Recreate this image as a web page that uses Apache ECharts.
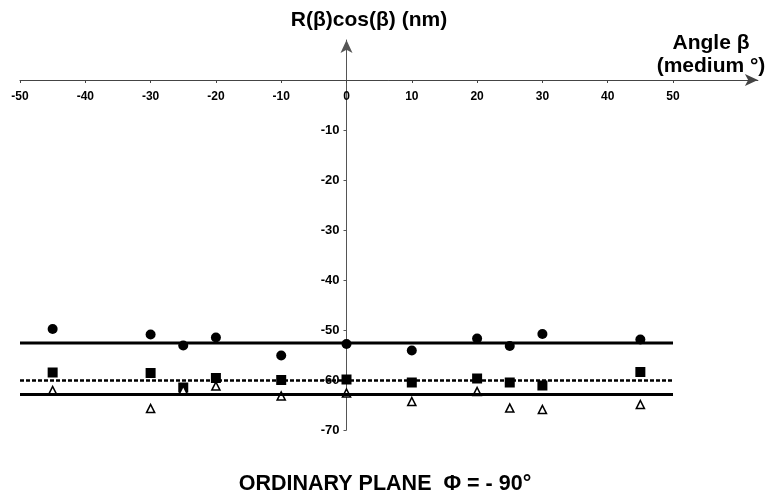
<!DOCTYPE html>
<html>
<head>
<meta charset="utf-8">
<script src="https://cdn.jsdelivr.net/npm/echarts@6/dist/echarts.min.js"></script>
<style>
  html, body { margin: 0; padding: 0; background: #fff; }
  #chart { width: 770px; height: 498px; }
</style>
</head>
<body>
<div id="chart"></div>
<script>
// angles (medium, degrees)
const angles = [-45, -30, -25, -20, -10, 0, 10, 20, 25, 30, 45];
// R(beta)cos(beta) values, nm
const circleVals = [-49.8, -50.9, -53.1, -51.5, -55.1, -52.8, -54.1, -51.7, -53.2, -50.8, -51.9];
const squareVals = [-58.5, -58.6, -61.5, -59.6, -60.0, -59.9, -60.5, -59.7, -60.5, -61.1, -58.4];
const triangleVals = [-62.1, -65.7, -62.0, -61.2, -63.2, -62.6, -64.3, -62.3, -65.6, -65.9, -64.9];
// horizontal mean lines
const lineSpan = [-50, 50];
const circleMean = -52.6;
const squareMean = -60.1;
const triangleMean = -62.9;
// tick labels
const xTicks = [-50, -40, -30, -20, -10, 0, 10, 20, 30, 40, 50];
const yTicks = [-10, -20, -30, -40, -50, -60, -70];

const chart = echarts.init(document.getElementById('chart'));

const pairs = vals => angles.map((a, i) => [a, vals[i]]);
const flat = v => lineSpan.map(x => [x, v]);
const boldFont = '"Liberation Sans", Arial, sans-serif';

// grid: -50 at x=20, 63 at x~758 ; 8 at y=40, -70 at y=430
const xMin = -50, xMax = 63, yMin = -70, yMax = 8;
const gLeft = 20, gRight = 12.1, gTop = 40, gBottom = 68;
const plotW = 770 - gLeft - gRight, plotH = 498 - gTop - gBottom;
const zeroX = plotW * (0 - xMin) / (xMax - xMin);   // from grid left
const zeroY = plotH * (0 - yMin) / (yMax - yMin);   // from grid bottom

const option = {
  animation: false,
  title: [
    {
      text: 'ORDINARY PLANE  \u03A6 = - 90\u00B0',
      left: 380, top: 468, textAlign: 'center',
      textStyle: { fontFamily: boldFont, fontWeight: 'bold', fontSize: 21.5, color: '#000' }
    },
    {
      text: 'R(\u03B2)cos(\u03B2) (nm)',
      left: 364, top: 5, textAlign: 'center',
      textStyle: { fontFamily: boldFont, fontWeight: 'bold', fontSize: 21, color: '#000' }
    },
    {
      text: 'Angle \u03B2\n(medium \u00B0)',
      left: 706, top: 27, textAlign: 'center',
      textStyle: { fontFamily: boldFont, fontWeight: 'bold', fontSize: 21, color: '#000',
        lineHeight: 23, align: 'center' }
    }
  ],
  grid: { left: gLeft, right: gRight, top: gTop, bottom: gBottom,
    containLabel: false, outerBoundsMode: 'none' },
  xAxis: {
    type: 'value', min: xMin, max: xMax, position: 'bottom', offset: -zeroY,
    splitLine: { show: false },
    axisLine: { onZero: false, symbol: ['none', 'arrow'], symbolSize: [9, 13],
      lineStyle: { color: '#444', width: 1 } },
    axisTick: { show: true, length: 3, customValues: xTicks, lineStyle: { color: '#444' } },
    axisLabel: { customValues: xTicks, margin: 11, fontFamily: boldFont, fontWeight: 'bold',
      fontSize: 12, color: '#000' }
  },
  yAxis: {
    type: 'value', min: yMin, max: yMax, position: 'left', offset: -zeroX,
    splitLine: { show: false },
    axisLine: { onZero: false, symbol: ['none', 'arrow'], symbolSize: [9, 13],
      lineStyle: { color: '#555', width: 1 } },
    axisTick: { show: true, length: 3, customValues: yTicks, lineStyle: { color: '#555' } },
    axisLabel: { customValues: yTicks, margin: 7, fontFamily: boldFont, fontWeight: 'bold',
      fontSize: 13, color: '#000' }
  },
  series: [
    { type: 'line', data: flat(circleMean), symbol: 'none', silent: true,
      lineStyle: { color: '#000', width: 3 } },
    { type: 'line', data: flat(squareMean), symbol: 'none', silent: true,
      lineStyle: { color: '#000', width: 2.5, type: [4, 2] } },
    { type: 'line', data: flat(triangleMean), symbol: 'none', silent: true,
      lineStyle: { color: '#000', width: 3 } },
    { type: 'scatter', data: pairs(circleVals), symbol: 'circle', symbolSize: 10,
      itemStyle: { color: '#000', opacity: 1 } },
    { type: 'scatter', data: pairs(squareVals), symbol: 'rect', symbolSize: 10,
      itemStyle: { color: '#000', opacity: 1 } },
    { type: 'scatter', data: pairs(triangleVals), symbol: 'triangle', symbolSize: 8,
      itemStyle: { color: '#fff', borderColor: '#000', borderWidth: 1.6, opacity: 1 } }
  ]
};

chart.setOption(option);
</script>
</body>
</html>
